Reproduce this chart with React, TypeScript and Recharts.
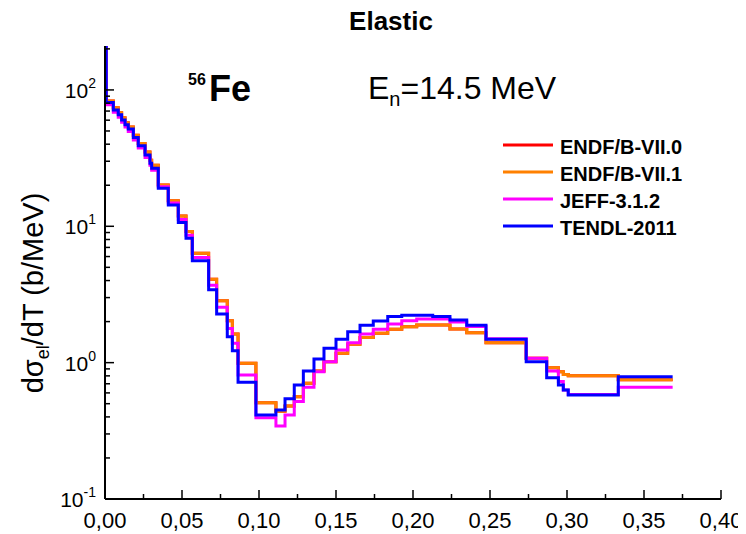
import { LineChart, Line, XAxis, YAxis } from 'recharts'

// left edges of the histogram bins (MeV); the last bin closes at binEnd
const binEdges = [
  0, 0.0008, 0.0054, 0.0086, 0.0108, 0.013, 0.0151, 0.0184, 0.0216, 0.026,
  0.0292, 0.0303, 0.0346, 0.0411, 0.0476, 0.0526, 0.0567, 0.0673, 0.0725, 0.0794,
  0.0827, 0.0864, 0.098, 0.111, 0.1169, 0.1229, 0.1288, 0.1357, 0.1422, 0.15,
  0.1576, 0.1656, 0.1742, 0.1836, 0.1927, 0.2024, 0.2128, 0.224, 0.2349, 0.2474,
  0.2735, 0.2868, 0.2944, 0.2976, 0.3008, 0.3333,
]
const binEnd = 0.3686

// dsigma/dT per bin (b/MeV)
const endfb70 = [
  210, 83, 74, 68, 62.5, 57.5, 53.5, 46.5, 40.5, 35,
  30.5, 28, 20.1, 15.4, 11.9, 9.15, 6.35, 4.09, 2.85, 2.03,
  1.62, 0.99, 0.509, 0.44, 0.481, 0.563, 0.706, 0.869, 1.017, 1.172,
  1.365, 1.526, 1.643, 1.758, 1.837, 1.891, 1.891, 1.767, 1.66, 1.402,
  1.077, 0.919, 0.859, 0.82, 0.8, 0.75,
]
const endfb71 = [
  210, 83, 74, 68, 62.5, 57.5, 53.5, 46.5, 40.5, 35,
  30.5, 28, 20.1, 15.4, 11.9, 9.15, 6.35, 4.09, 2.85, 2.03,
  1.62, 0.99, 0.509, 0.44, 0.481, 0.563, 0.706, 0.869, 1.017, 1.172,
  1.365, 1.526, 1.643, 1.758, 1.837, 1.891, 1.891, 1.767, 1.66, 1.402,
  1.077, 0.919, 0.859, 0.82, 0.8, 0.75,
]
const jeff312 = [
  210, 78, 68.5, 63, 58, 53.5, 49.5, 43, 37.5, 32,
  28, 25.8, 19.5, 14.8, 11.2, 8.6, 5.9, 3.7, 2.55, 1.78,
  1.39, 0.81, 0.395, 0.343, 0.413, 0.518, 0.66, 0.859, 1.017, 1.237,
  1.402, 1.62, 1.758, 1.92, 2.03, 2.09, 2.09, 1.99, 1.84, 1.5,
  1.077, 0.869, 0.727, 0.63, 0.585, 0.66,
]
const tendl2011 = [
  210, 80.8, 71.4, 65.7, 60.3, 55.5, 51.6, 44.8, 38.9, 33.4,
  29, 26.7, 19, 14.35, 10.65, 8.18, 5.58, 3.42, 2.27, 1.55,
  1.22, 0.718, 0.413, 0.45, 0.544, 0.686, 0.869, 1.065, 1.275, 1.485,
  1.688, 1.881, 2.022, 2.176, 2.227, 2.227, 2.176, 2.057, 1.881, 1.485,
  1.017, 0.776, 0.686, 0.63, 0.579, 0.789,
]

const libraries = ['ENDF/B-VII.0', 'ENDF/B-VII.1', 'JEFF-3.1.2', 'TENDL-2011']
const libraryValues = [endfb70, endfb71, jeff312, tendl2011]
const libraryColors = ['#ff0000', '#ff8000', '#ff00ff', '#0000ff']

const xTicks = [
  0, 0.025, 0.05, 0.075, 0.1, 0.125, 0.15, 0.175, 0.2,
  0.225, 0.25, 0.275, 0.3, 0.325, 0.35, 0.375, 0.4,
]
const yTicks = [
  0.1, 0.2, 0.3, 0.4, 0.5, 0.6, 0.7, 0.8, 0.9,
  1, 2, 3, 4, 5, 6, 7, 8, 9,
  10, 20, 30, 40, 50, 60, 70, 80, 90,
  100, 200,
]

const FONT = '"Liberation Sans", Arial, Helvetica, sans-serif'

function toSteps(values: number[]) {
  const pts = binEdges.map((x, i) => ({ x, y: values[i] }))
  pts.push({ x: binEnd, y: values[values.length - 1] })
  return pts
}

const isMajorX = (v: number) => Math.abs(v * 20 - Math.round(v * 20)) < 1e-6
const isMajorY = (v: number) => {
  const l = Math.log10(v)
  return Math.abs(l - Math.round(l)) < 1e-6
}

function BottomTick({ x, y, payload }: any) {
  const major = isMajorX(payload.value)
  return (
    <g>
      <line x1={x} x2={x} y1={y} y2={y - (major ? 9 : 5)} stroke="#000" strokeWidth={1.5} />
      {major && (
        <text x={x} y={y + 29} textAnchor="middle" fontSize={22} fontFamily={FONT} fill="#000">
          {payload.value.toFixed(2).replace('.', ',')}
        </text>
      )}
    </g>
  )
}

function TopTick({ x, y, payload }: any) {
  const major = isMajorX(payload.value)
  return <line x1={x} x2={x} y1={y} y2={y + (major ? 9 : 5)} stroke="#000" strokeWidth={1.5} />
}

function LeftTick({ x, y, payload }: any) {
  const major = isMajorY(payload.value)
  const exp = Math.round(Math.log10(payload.value))
  return (
    <g>
      <line x1={x} x2={x + (major ? 9 : 5)} y1={y} y2={y} stroke="#000" strokeWidth={1.5} />
      {major && (
        <text x={x - 9} y={y + 8} textAnchor="end" fontSize={21} fontFamily={FONT} fill="#000">
          <tspan>10</tspan>
          <tspan dy={-10} fontSize={14}>{exp}</tspan>
        </text>
      )}
    </g>
  )
}

function RightTick({ x, y, payload }: any) {
  const major = isMajorY(payload.value)
  return <line x1={x} x2={x - (major ? 9 : 5)} y1={y} y2={y} stroke="#000" strokeWidth={1.5} />
}

export default function App() {
  const axisLine = { stroke: '#000', strokeWidth: 2 }
  return (
    <div style={{ position: 'relative', width: 738, height: 526, fontFamily: FONT }}>
      <LineChart width={738} height={526} margin={{ top: 38, right: 25, bottom: 0, left: 0 }}>
        <XAxis
          dataKey="x"
          type="number"
          domain={[0, 0.4]}
          ticks={xTicks}
          interval={0}
          height={35}
          axisLine={axisLine}
          tickLine={false}
          tickSize={0}
          tickMargin={0}
          tick={<BottomTick />}
          allowDataOverflow
        />
        <XAxis
          xAxisId="top"
          orientation="top"
          type="number"
          domain={[0, 0.4]}
          ticks={xTicks}
          interval={0}
          height={0}
          axisLine={axisLine}
          tickLine={false}
          tickSize={0}
          tickMargin={0}
          tick={<TopTick />}
          allowDataOverflow
        />
        <YAxis
          type="number"
          scale="log"
          domain={[0.1, 210]}
          ticks={yTicks}
          interval={0}
          width={97}
          axisLine={axisLine}
          tickLine={false}
          tickSize={0}
          tickMargin={0}
          tick={<LeftTick />}
          allowDataOverflow
        />
        <YAxis
          yAxisId="right"
          orientation="right"
          type="number"
          scale="log"
          domain={[0.1, 210]}
          ticks={yTicks}
          interval={0}
          width={0}
          axisLine={axisLine}
          tickLine={false}
          tickSize={0}
          tickMargin={0}
          tick={<RightTick />}
          allowDataOverflow
        />
        {libraries.map((name, i) => (
          <Line
            key={name}
            name={name}
            data={toSteps(libraryValues[i])}
            dataKey="y"
            type="stepAfter"
            stroke={libraryColors[i]}
            strokeWidth={3}
            dot={false}
            isAnimationActive={false}
          />
        ))}
      </LineChart>

      {/* annotation layer, laid out in page coordinates */}
      <svg
        width={746}
        height={534}
        style={{ position: 'absolute', left: -8, top: -8, pointerEvents: 'none' }}
        fontFamily={FONT}
      >
        <text x={391} y={30} textAnchor="middle" fontSize={26} fontWeight="bold">Elastic</text>

        <text x={188} y={85} fontSize={16} fontWeight="bold">56</text>
        <text x={209} y={100.7} fontSize={36} fontWeight="bold">Fe</text>

        <text x={368} y={99} fontSize={32}>
          <tspan>E</tspan>
          <tspan dy={7} fontSize={20}>n</tspan>
          <tspan dy={-7}>=14.5 MeV</tspan>
        </text>

        {libraries.map((name, i) => (
          <g key={name}>
            <line x1={503} x2={553} y1={145 + i * 27} y2={145 + i * 27} stroke={libraryColors[i]} strokeWidth={3} />
            <text x={560} y={154 + i * 27} fontSize={20} fontWeight="bold">{name}</text>
          </g>
        ))}

        <g transform="translate(43,293) rotate(-90)">
          <text x={0} y={0} textAnchor="middle" fontSize={29}>
            <tspan>dσ</tspan>
            <tspan dy={6} fontSize={18}>el</tspan>
            <tspan dy={-6}>/dT (b/MeV)</tspan>
          </text>
        </g>
      </svg>
    </div>
  )
}
